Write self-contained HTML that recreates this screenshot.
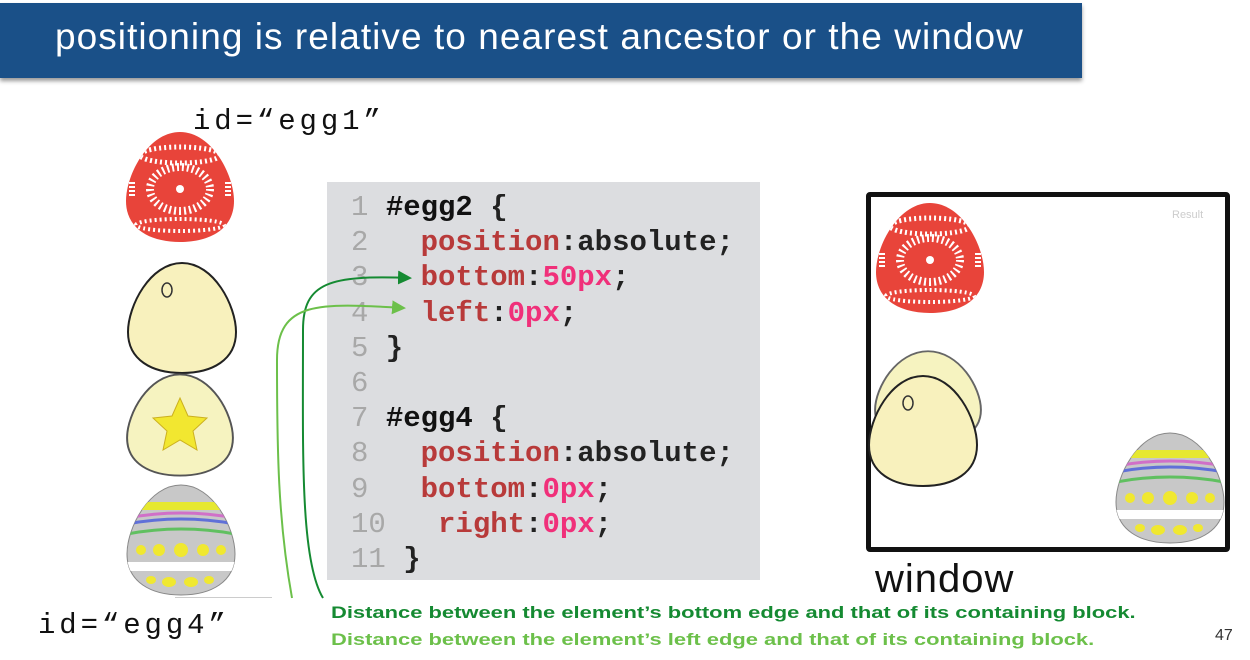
<!DOCTYPE html>
<html><head><style>
body{margin:0;width:1250px;height:660px;background:#fff;position:relative;overflow:hidden;font-family:"Liberation Sans",sans-serif}
.a{position:absolute;white-space:pre}
.code{font-family:"Liberation Mono",monospace;font-size:29px;line-height:35.2px;font-weight:bold}
.n{color:#a8a8a8;font-weight:normal}.k{color:#b83a3a}.v{color:#f0307a}.b{font-weight:bold;color:#111}
</style></head><body>
<div class="a" style="left:0;top:3px;width:1082px;height:75px;background:#1a5088;box-shadow:0 3px 4px #999"></div>
<div class="a" style="left:55px;top:16px;font-size:37px;color:#fff;letter-spacing:1.05px">positioning is relative to nearest ancestor or the window</div>
<div class="a" style="left:193px;top:105px;font-family:'Liberation Mono',monospace;font-size:29px;letter-spacing:3.9px;color:#111">id=“egg1”</div>
<div class="a" style="left:38px;top:609px;font-family:'Liberation Mono',monospace;font-size:29px;letter-spacing:3.9px;color:#111">id=“egg4”</div>
<div class="a" style="left:175px;top:597px;width:97px;height:1px;background:#ccc"></div>
<div class="a" style="left:327px;top:182px;width:433px;height:398px;background:#dcdde0"></div>
<div class="a code" style="left:351px;top:190px;color:#222"><span class="n">1</span> <span class="b">#egg2</span> {
<span class="n">2</span>   <span class="k">position</span>:absolute;
<span class="n">3</span>   <span class="k">bottom</span>:<span class="v">50px</span>;
<span class="n">4</span>   <span class="k">left</span>:<span class="v">0px</span>;
<span class="n">5</span> }
<span class="n">6</span>
<span class="n">7</span> <span class="b">#egg4</span> {
<span class="n">8</span>   <span class="k">position</span>:absolute;
<span class="n">9</span>   <span class="k">bottom</span>:<span class="v">0px</span>;
<span class="n">10</span>   <span class="k">right</span>:<span class="v">0px</span>;
<span class="n">11</span> }</div>
<div class="a" style="left:866px;top:192px;width:354px;height:350px;border:5px solid #111;border-radius:4px"></div>
<div class="a" style="left:1172px;top:209px;font-size:11px;color:#ccc">Result</div>
<div class="a" style="left:875px;top:557px;font-size:40px;letter-spacing:1px;color:#111">window</div>
<div class="a" style="left:331px;top:603px;font-size:17px;font-weight:bold;color:#158a32;transform:scaleX(1.29);transform-origin:left">Distance between the element’s bottom edge and that of its containing block.</div>
<div class="a" style="left:331px;top:630px;font-size:17px;font-weight:bold;color:#6cc04a;transform:scaleX(1.29);transform-origin:left">Distance between the element’s left edge and that of its containing block.</div>
<div class="a" style="left:1215px;top:627px;font-size:16px;color:#333">47</div>
<svg class="a" style="left:0;top:0" width="1250" height="660">
<defs>
<marker id="m1" markerWidth="14" markerHeight="14" refX="12" refY="7" orient="auto" markerUnits="userSpaceOnUse"><path d="M0,0L14,7L0,14z" fill="#158a32"/></marker>
<marker id="m2" markerWidth="14" markerHeight="14" refX="12" refY="7" orient="auto" markerUnits="userSpaceOnUse"><path d="M0,0L14,7L0,14z" fill="#6cc04a"/></marker>
<path id="eg" d="M0,-55C32,-55 54,-12 54,14C54,42 30,55 0,55C-30,55 -54,42 -54,14C-54,-12 -32,-55 0,-55Z"/>
<clipPath id="cp"><use href="#eg"/></clipPath>
<g id="red"><use href="#eg" fill="#e8443a"/><g clip-path="url(#cp)"><ellipse cx="0" cy="2" rx="30" ry="22" fill="none" stroke="#fff" stroke-width="8" stroke-dasharray="2 3"/><circle cx="0" cy="2" r="4" fill="#fff"/><ellipse cx="0" cy="-32" rx="40" ry="8" fill="none" stroke="#fff" stroke-width="5" stroke-dasharray="2 3"/><ellipse cx="0" cy="38" rx="44" ry="6" fill="none" stroke="#fff" stroke-width="4" stroke-dasharray="2 3"/><path d="M-48,-5v14M48,-5v14" stroke="#fff" stroke-width="6" stroke-dasharray="2 2"/></g></g>
<g id="cream"><use href="#eg" fill="#f8f1bd" stroke="#222" stroke-width="2"/><ellipse cx="-15" cy="-28" rx="5" ry="7" fill="none" stroke="#333" stroke-width="1.5"/></g>
<g id="strip"><use href="#eg" fill="#c8c8c8" stroke="#888"/><g clip-path="url(#cp)"><rect x="-40" y="-38" width="80" height="8" fill="#e6e830"/><path d="M-54,-22Q0,-32 54,-22" stroke="#d070c8" stroke-width="3" fill="none"/><path d="M-54,-16Q0,-26 54,-16" stroke="#6070d8" stroke-width="3" fill="none"/><path d="M-54,-6Q0,-16 54,-6" stroke="#60c060" stroke-width="3" fill="none"/><g fill="#f0e830"><circle cx="-40" cy="10" r="5"/><circle cx="-22" cy="10" r="6"/><circle cx="0" cy="10" r="7"/><circle cx="22" cy="10" r="6"/><circle cx="40" cy="10" r="5"/></g><rect x="-56" y="22" width="112" height="9" fill="#fff"/><g fill="#f0e830"><ellipse cx="-30" cy="40" rx="5" ry="4"/><ellipse cx="-12" cy="42" rx="7" ry="5"/><ellipse cx="10" cy="42" rx="7" ry="5"/><ellipse cx="28" cy="40" rx="5" ry="4"/></g></g></g>
</defs>
<use href="#red" x="180" y="187"/>
<use href="#cream" x="182" y="318"/>
<g transform="translate(180,425) scale(0.98,0.92)"><use href="#eg" fill="#f6f3c0" stroke="#555" stroke-width="2"/></g>
<polygon points="180,398 188,416 207,418 193,431 197,450 180,440 163,450 167,431 153,418 172,416" fill="#f2e730" stroke="#ccb020"/>
<use href="#strip" x="181" y="540"/>
<use href="#red" x="930" y="258"/>
<g transform="translate(928,398) scale(0.98,0.85)"><use href="#eg" fill="#f6f3c0" stroke="#666" stroke-width="2"/></g>
<use href="#cream" x="923" y="431"/>
<use href="#strip" x="1170" y="488"/>
<path d="M323,598C300,560 303,450 303,330C303,282 330,275 410,278" stroke="#158a32" stroke-width="2" fill="none" marker-end="url(#m1)"/>
<path d="M292,598C278,520 277,450 277,360C277,300 320,303 404,308" stroke="#6cc04a" stroke-width="2" fill="none" marker-end="url(#m2)"/>
</svg>
</body></html>
